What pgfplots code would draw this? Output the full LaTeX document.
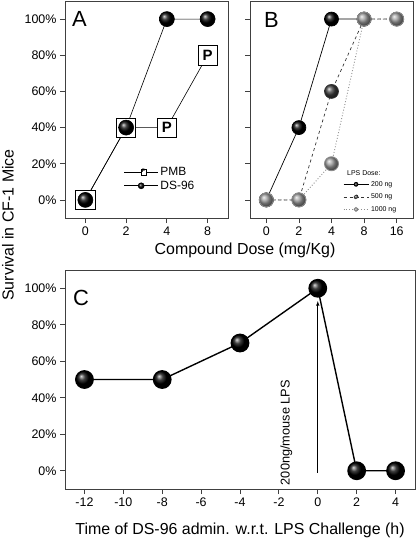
\documentclass[border=0pt]{standalone}
\usepackage{fontspec}
\setmainfont{Liberation Sans}
\usepackage{pgfplots}
\pgfplotsset{compat=1.18}
\usetikzlibrary{shadings}
\pgfplotsset{
  panel/.style={scale only axis, axis line style={black!75, line width=0.8pt},
    tick style={black!75, line width=0.8pt}, tick align=outside,
    xtick pos=bottom, ytick pos=left, major tick length=5bp,
    ymin=-10, ymax=110, ytick={0,20,...,100},
    yticklabel={\pgfmathprintnumber{\tick}\%},
    ticklabel style={font=\fontsize{12.5}{14}\selectfont},
    /pgf/number format/assume math mode=true, clip=false},
}
\begin{document}
\begin{tikzpicture}
\useasboundingbox (0,0) rectangle (416bp,-540bp);
% ---------------- Panel A
\begin{axis}[panel, at={(65bp,-1bp)}, anchor=north west, width=163bp, height=217bp,
  xmin=-0.5, xmax=3.5, xtick={0,1,2,3}, xticklabels={0,2,4,8},
  legend style={draw=none, fill=none, at={(0.36,0.18)}, anchor=west,
    font=\fontsize{12}{12}\selectfont, row sep=0bp, inner sep=0pt,
    /tikz/every even column/.append style={column sep=4bp}},
  legend cell align=left]
\addplot[black, line width=0.6pt, mark=square*, mark size=9.7bp,
  mark options={fill=white, draw=black, line width=0.7pt},
  legend image code/.code={\draw[black,line width=0.6pt] (0bp,0bp)--(34bp,0bp);
    \node[draw=black, fill=white, inner sep=0.6pt, line width=0.4pt,
      font=\fontsize{5}{5}\selectfont\bfseries] at (17bp,0bp) {P};}]
  coordinates {(0,0) (1,40) (2,40) (3,80)};
\addlegendentry{PMB}
\addplot[black, line width=0.6pt, mark=ball, mark size=7.5bp, mark options={ball color=black},
  legend image code/.code={\draw[black,line width=0.6pt] (0bp,0bp)--(34bp,0bp);
    \shade[ball color=black] (17bp,0bp) circle (3bp);}]
  coordinates {(0,0) (1,40) (2,100) (3,100)};
\addlegendentry{DS-96}
\addplot[draw=none, mark=none, forget plot, nodes near coords={\textbf{P}},
  every node near coord/.style={anchor=center, font=\fontsize{15}{15}\selectfont}]
  coordinates {(2,40) (3,80)};
\end{axis}
% ---------------- Panel B
\begin{axis}[panel, at={(250bp,-1bp)}, anchor=north west, width=163bp, height=217bp,
  xmin=-0.5, xmax=4.5, xtick={0,1,2,3,4}, xticklabels={0,2,4,8,16},
  yticklabels={,,,,,},
  legend style={draw=none, fill=none, at={(0.57,0.18)}, anchor=north west,
    font=\fontsize{7}{7}\selectfont, row sep=2.2bp, inner sep=0pt,
    /tikz/every even column/.append style={column sep=1.5bp}},
  legend cell align=left]
\addplot[black, line width=0.7pt, mark=ball, mark size=7bp, mark options={ball color=black},
  legend image code/.code={\draw[black,line width=0.7pt] (0bp,0bp)--(25bp,0bp);
    \shade[ball color=black] (12.5bp,0bp) circle (2bp);}]
  coordinates {(0,0) (1,40) (2,100) (3,100)};
\addlegendentry{200 ng}
\addplot[black!80, dashed, line width=0.7pt, mark=ball, mark size=7bp,
  mark options={solid, ball color=black!75},
  legend image code/.code={\draw[black!80,dashed,line width=0.7pt] (0bp,0bp)--(25bp,0bp);
    \shade[ball color=black!75] (12.5bp,0bp) circle (2bp);}]
  coordinates {(0,0) (1,0) (2,60) (3,100) (4,100)};
\addlegendentry{500 ng}
\addplot[black!45, dotted, line width=0.9pt, mark=ball, mark size=7bp,
  mark options={solid, ball color=black!40},
  legend image code/.code={\draw[black!45,dotted,line width=0.9pt] (0bp,0bp)--(25bp,0bp);
    \shade[ball color=black!40] (12.5bp,0bp) circle (2bp);}]
  coordinates {(0,0) (1,0) (2,20) (3,100) (4,100)};
\addlegendentry{1000 ng}
\node[anchor=west, inner sep=0pt, font=\fontsize{7}{8}\selectfont] at (rel axis cs:0.595,0.206) {LPS Dose:};
\end{axis}
% ---------------- Panel C
\begin{axis}[panel, at={(65bp,-270bp)}, anchor=north west, width=350bp, height=219bp,
  xmin=-13, xmax=5, xtick={-12,-10,...,4}]
\draw[->, line width=0.6pt, >=latex] (axis cs:0,-1) -- (axis cs:0,93);
\node[rotate=90, anchor=base west, inner sep=0pt, font=\fontsize{12.8}{14}\selectfont]
  at (axis cs:-1.45,-8) {200ng/mouse LPS};
\addplot[black, line width=1.4pt, mark=ball, mark size=8.7bp, mark options={ball color=black}]
  coordinates {(-12,50) (-8,50) (-4,70) (0,100) (2,0) (4,0)};
\end{axis}
% ---------------- labels
\node[anchor=base west, inner sep=0pt, font=\fontsize{22}{22}\selectfont] at (72bp,-26bp) {A};
\node[anchor=base west, inner sep=0pt, font=\fontsize{22}{22}\selectfont] at (264bp,-27bp) {B};
\node[anchor=base west, inner sep=0pt, font=\fontsize{22}{22}\selectfont] at (73bp,-305bp) {C};
\node[inner sep=0pt, font=\fontsize{16}{18}\selectfont] at (245bp,-250bp) {Compound Dose (mg/Kg)};
\node[inner sep=0pt, font=\fontsize{16}{18}\selectfont] at (240bp,-530bp) {Time of DS-96 admin. w.r.t. LPS Challenge (h)};
\node[rotate=90, anchor=base, inner sep=0pt, font=\fontsize{16}{18}\selectfont] at (13.5bp,-225bp) {Survival in CF-1 Mice};
\end{tikzpicture}
\end{document}
